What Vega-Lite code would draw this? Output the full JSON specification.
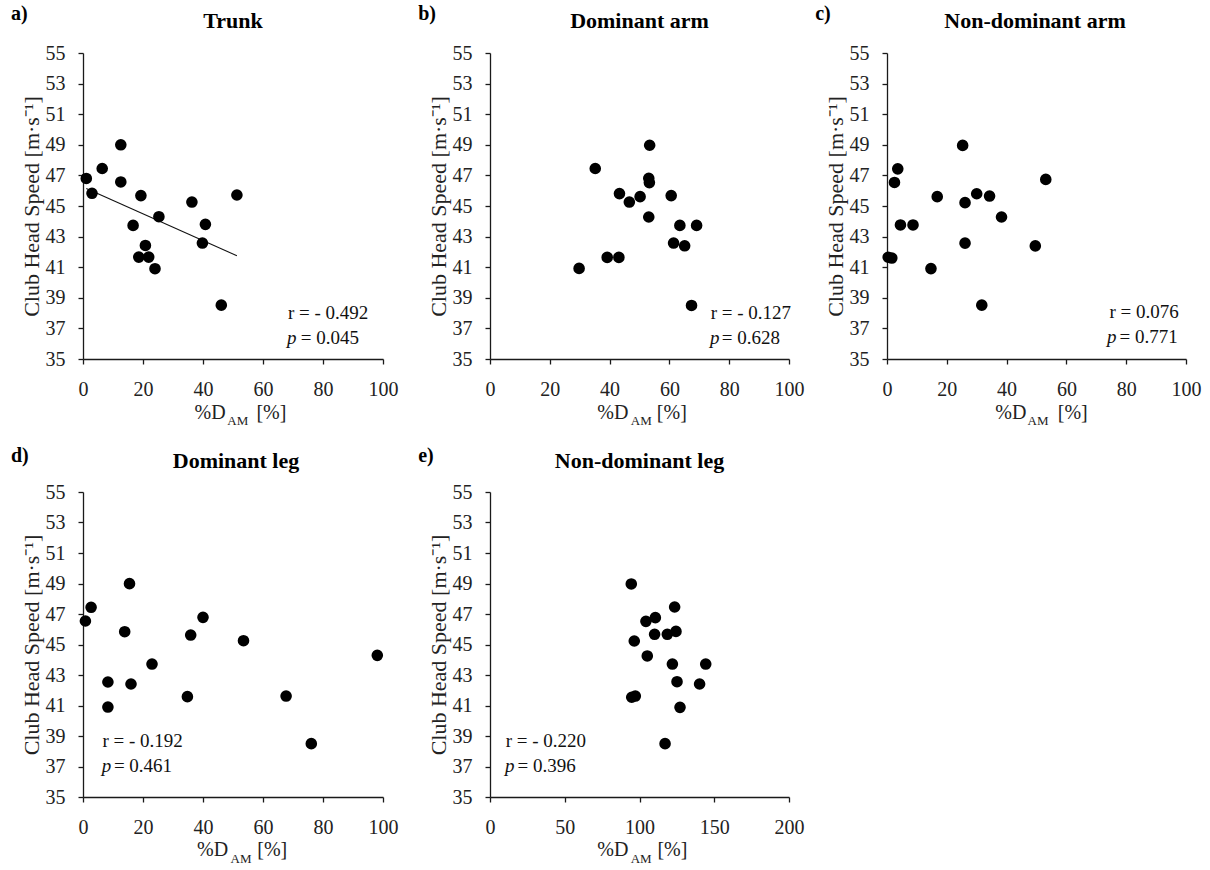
{
  "$schema": "https://vega.github.io/schema/vega-lite/v6.json",
  "background": "white",
  "padding": {"left": 11, "top": 4, "right": 5, "bottom": 5},
  "datasets": {
    "pts": [
      {"panel": "a", "pct": 1.1, "chs": 46.8}, {"panel": "a", "pct": 3.0, "chs": 45.83}, {"panel": "a", "pct": 6.4, "chs": 47.45}, {"panel": "a", "pct": 12.6, "chs": 49.0}, {"panel": "a", "pct": 12.6, "chs": 46.57}, {"panel": "a", "pct": 19.3, "chs": 45.68}, {"panel": "a", "pct": 16.7, "chs": 43.73}, {"panel": "a", "pct": 25.3, "chs": 44.3}, {"panel": "a", "pct": 20.8, "chs": 42.42}, {"panel": "a", "pct": 18.6, "chs": 41.66}, {"panel": "a", "pct": 21.9, "chs": 41.66}, {"panel": "a", "pct": 24.0, "chs": 40.9}, {"panel": "a", "pct": 36.3, "chs": 45.26}, {"panel": "a", "pct": 40.8, "chs": 43.8}, {"panel": "a", "pct": 39.8, "chs": 42.58}, {"panel": "a", "pct": 46.1, "chs": 38.52}, {"panel": "a", "pct": 51.3, "chs": 45.72},
      {"panel": "b", "pct": 29.8, "chs": 40.92}, {"panel": "b", "pct": 35.2, "chs": 47.45}, {"panel": "b", "pct": 39.2, "chs": 41.64}, {"panel": "b", "pct": 43.1, "chs": 41.64}, {"panel": "b", "pct": 43.3, "chs": 45.81}, {"panel": "b", "pct": 46.6, "chs": 45.26}, {"panel": "b", "pct": 50.2, "chs": 45.61}, {"panel": "b", "pct": 53.1, "chs": 46.81}, {"panel": "b", "pct": 53.3, "chs": 46.53}, {"panel": "b", "pct": 53.4, "chs": 48.97}, {"panel": "b", "pct": 53.1, "chs": 44.28}, {"panel": "b", "pct": 60.6, "chs": 45.68}, {"panel": "b", "pct": 61.4, "chs": 42.58}, {"panel": "b", "pct": 63.5, "chs": 43.73}, {"panel": "b", "pct": 65.1, "chs": 42.4}, {"panel": "b", "pct": 69.1, "chs": 43.73}, {"panel": "b", "pct": 67.4, "chs": 38.5},
      {"panel": "c", "pct": 0.4, "chs": 41.65}, {"panel": "c", "pct": 1.6, "chs": 41.6}, {"panel": "c", "pct": 2.5, "chs": 46.54}, {"panel": "c", "pct": 3.6, "chs": 47.43}, {"panel": "c", "pct": 4.5, "chs": 43.76}, {"panel": "c", "pct": 8.7, "chs": 43.76}, {"panel": "c", "pct": 14.7, "chs": 40.91}, {"panel": "c", "pct": 16.8, "chs": 45.61}, {"panel": "c", "pct": 25.3, "chs": 48.96}, {"panel": "c", "pct": 26.1, "chs": 45.22}, {"panel": "c", "pct": 26.1, "chs": 42.57}, {"panel": "c", "pct": 30.0, "chs": 45.8}, {"panel": "c", "pct": 34.3, "chs": 45.65}, {"panel": "c", "pct": 31.7, "chs": 38.52}, {"panel": "c", "pct": 38.3, "chs": 44.28}, {"panel": "c", "pct": 49.6, "chs": 42.39}, {"panel": "c", "pct": 53.1, "chs": 46.74},
      {"panel": "d", "pct": 0.8, "chs": 46.54}, {"panel": "d", "pct": 2.7, "chs": 47.44}, {"panel": "d", "pct": 8.3, "chs": 42.54}, {"panel": "d", "pct": 8.3, "chs": 40.9}, {"panel": "d", "pct": 13.9, "chs": 45.84}, {"panel": "d", "pct": 15.5, "chs": 48.99}, {"panel": "d", "pct": 16.0, "chs": 42.41}, {"panel": "d", "pct": 23.0, "chs": 43.72}, {"panel": "d", "pct": 34.8, "chs": 41.58}, {"panel": "d", "pct": 35.9, "chs": 45.62}, {"panel": "d", "pct": 40.0, "chs": 46.78}, {"panel": "d", "pct": 53.5, "chs": 45.25}, {"panel": "d", "pct": 67.7, "chs": 41.62}, {"panel": "d", "pct": 76.1, "chs": 38.5}, {"panel": "d", "pct": 98.1, "chs": 44.29},
      {"panel": "e", "pct": 94.5, "chs": 48.97}, {"panel": "e", "pct": 94.8, "chs": 41.54}, {"panel": "e", "pct": 97.2, "chs": 41.62}, {"panel": "e", "pct": 96.5, "chs": 45.23}, {"panel": "e", "pct": 104.3, "chs": 46.52}, {"panel": "e", "pct": 110.6, "chs": 46.76}, {"panel": "e", "pct": 110.1, "chs": 45.67}, {"panel": "e", "pct": 105.2, "chs": 44.25}, {"panel": "e", "pct": 118.6, "chs": 45.67}, {"panel": "e", "pct": 123.5, "chs": 47.46}, {"panel": "e", "pct": 124.4, "chs": 45.86}, {"panel": "e", "pct": 122.0, "chs": 43.72}, {"panel": "e", "pct": 125.1, "chs": 42.56}, {"panel": "e", "pct": 127.1, "chs": 40.88}, {"panel": "e", "pct": 117.1, "chs": 38.5}, {"panel": "e", "pct": 140.2, "chs": 42.41}, {"panel": "e", "pct": 144.3, "chs": 43.72}
    ],
    "trend": [
      {"panel": "a", "pct": 1.1, "chs": 46.15}, {"panel": "a", "pct": 51.3, "chs": 41.75}
    ],
    "ann": [
      {"panel": "a", "pct": 68.3, "chs": 37.64, "text": "r = - 0.492"}, {"panel": "a", "pct": 72.6, "chs": 36.0, "text": "= 0.045"},
      {"panel": "b", "pct": 73.8, "chs": 37.64, "text": "r = - 0.127"}, {"panel": "b", "pct": 77.5, "chs": 36.0, "text": "= 0.628"},
      {"panel": "c", "pct": 74.4, "chs": 37.67, "text": "r = 0.076"}, {"panel": "c", "pct": 77.8, "chs": 36.04, "text": "= 0.771"},
      {"panel": "d", "pct": 6.5, "chs": 38.28, "text": "r = - 0.192"}, {"panel": "d", "pct": 10.3, "chs": 36.64, "text": "= 0.461"},
      {"panel": "e", "pct": 10.5, "chs": 38.28, "text": "r = - 0.220"}, {"panel": "e", "pct": 18.4, "chs": 36.64, "text": "= 0.396"}
    ],
    "pit": [
      {"panel": "a", "pct": 68.0, "chs": 36.0, "text": "p"},
      {"panel": "b", "pct": 73.6, "chs": 36.0, "text": "p"},
      {"panel": "c", "pct": 73.6, "chs": 36.04, "text": "p"},
      {"panel": "d", "pct": 6.25, "chs": 36.64, "text": "p"},
      {"panel": "e", "pct": 10.0, "chs": 36.64, "text": "p"}
    ],
    "lab": [
      {"panel": "a", "pct": -24, "chs": 57.13, "text": "a)"},
      {"panel": "b", "pct": -24, "chs": 57.13, "text": "b)"},
      {"panel": "c", "pct": -24, "chs": 57.13, "text": "c)"},
      {"panel": "d", "pct": -24, "chs": 56.97, "text": "d)"},
      {"panel": "e", "pct": -48, "chs": 56.97, "text": "e)"}
    ],
    "ttl": [
      {"panel": "a", "pct": 50, "chs": 56.66, "text": "Trunk"},
      {"panel": "b", "pct": 50, "chs": 56.66, "text": "Dominant arm"},
      {"panel": "c", "pct": 49.5, "chs": 56.66, "text": "Non-dominant arm"},
      {"panel": "d", "pct": 51, "chs": 56.57, "text": "Dominant leg"},
      {"panel": "e", "pct": 100, "chs": 56.57, "text": "Non-dominant leg"}
    ],
    "xt": [
      {"panel": "a", "pct": 37.2, "chs": 31.1, "text": "%D"}, {"panel": "a", "pct": 57.8, "chs": 31.1, "text": "[%]"},
      {"panel": "b", "pct": 35.9, "chs": 31.1, "text": "%D"}, {"panel": "b", "pct": 55.8, "chs": 31.1, "text": "[%]"},
      {"panel": "c", "pct": 36.2, "chs": 31.1, "text": "%D"}, {"panel": "c", "pct": 57.1, "chs": 31.1, "text": "[%]"},
      {"panel": "d", "pct": 38.0, "chs": 31.1, "text": "%D"}, {"panel": "d", "pct": 58.1, "chs": 31.1, "text": "[%]"},
      {"panel": "e", "pct": 71.8, "chs": 31.1, "text": "%D"}, {"panel": "e", "pct": 112.0, "chs": 31.1, "text": "[%]"}
    ],
    "xs": [
      {"panel": "a", "pct": 48.1, "chs": 30.66, "text": "AM"},
      {"panel": "b", "pct": 47.1, "chs": 30.66, "text": "AM"},
      {"panel": "c", "pct": 47.0, "chs": 30.66, "text": "AM"},
      {"panel": "d", "pct": 49.2, "chs": 30.66, "text": "AM"},
      {"panel": "e", "pct": 94.1, "chs": 30.66, "text": "AM"}
    ]
  },
  "config": {
    "font": "Liberation Serif",
    "view": {"stroke": null},
    "axis": {
      "grid": false, "domainColor": "#1a1a1a", "domainWidth": 1.3, "tickColor": "#1a1a1a", "tickWidth": 1.3, "tickSize": 5,
      "labelFont": "Liberation Serif", "labelFontSize": 20, "labelColor": "#222",
      "titleFont": "Liberation Serif", "titleFontSize": 22, "titleFontWeight": "normal", "titleColor": "#222"
    },
    "axisX": {"labelPadding": 15, "labelFlush": false},
    "axisY": {"labelPadding": 13, "titlePadding": 2},
    "text": {"font": "Liberation Serif"}
  },
  "vconcat": [
    {
      "spacing": 20,
      "hconcat": [
        {
          "width": 300, "height": 306,
          "encoding": {
            "x": {"field": "pct", "type": "quantitative", "scale": {"domain": [0, 100], "nice": false}, "axis": {"values": [0, 20, 40, 60, 80, 100], "title": null}},
            "y": {"field": "chs", "type": "quantitative", "scale": {"domain": [35, 55], "nice": false, "zero": false}, "axis": {"values": [35, 37, 39, 41, 43, 45, 47, 49, 51, 53, 55], "title": "Club Head Speed [m·s⁻¹]"}}
          },
          "layer": [
            {"data": {"name": "trend"}, "transform": [{"filter": "datum.panel === 'a'"}], "mark": {"type": "line", "color": "#111", "strokeWidth": 1.1}},
            {"data": {"name": "pts"}, "transform": [{"filter": "datum.panel === 'a'"}], "mark": {"type": "circle", "size": 135, "color": "#000", "opacity": 1}},
            {"data": {"name": "ann"}, "transform": [{"filter": "datum.panel === 'a'"}], "mark": {"type": "text", "align": "left", "baseline": "alphabetic", "fontSize": 19, "color": "#111"}, "encoding": {"text": {"field": "text"}}},
            {"data": {"name": "pit"}, "transform": [{"filter": "datum.panel === 'a'"}], "mark": {"type": "text", "align": "left", "baseline": "alphabetic", "fontSize": 19, "fontStyle": "italic", "color": "#111"}, "encoding": {"text": {"field": "text"}}},
            {"data": {"name": "lab"}, "transform": [{"filter": "datum.panel === 'a'"}], "mark": {"type": "text", "align": "left", "baseline": "alphabetic", "fontSize": 20, "fontWeight": "bold", "color": "#000"}, "encoding": {"text": {"field": "text"}}},
            {"data": {"name": "ttl"}, "transform": [{"filter": "datum.panel === 'a'"}], "mark": {"type": "text", "align": "center", "baseline": "alphabetic", "fontSize": 22, "fontWeight": "bold", "color": "#000"}, "encoding": {"text": {"field": "text"}}},
            {"data": {"name": "xt"}, "transform": [{"filter": "datum.panel === 'a'"}], "mark": {"type": "text", "align": "left", "baseline": "alphabetic", "fontSize": 20, "color": "#222"}, "encoding": {"text": {"field": "text"}}},
            {"data": {"name": "xs"}, "transform": [{"filter": "datum.panel === 'a'"}], "mark": {"type": "text", "align": "left", "baseline": "alphabetic", "fontSize": 13, "color": "#222"}, "encoding": {"text": {"field": "text"}}}
          ]
        },
        {
          "spacing": 11,
          "hconcat": [
            {
              "width": 299, "height": 306,
              "encoding": {
                "x": {"field": "pct", "type": "quantitative", "scale": {"domain": [0, 100], "nice": false}, "axis": {"values": [0, 20, 40, 60, 80, 100], "title": null}},
                "y": {"field": "chs", "type": "quantitative", "scale": {"domain": [35, 55], "nice": false, "zero": false}, "axis": {"values": [35, 37, 39, 41, 43, 45, 47, 49, 51, 53, 55], "title": "Club Head Speed [m·s⁻¹]"}}
              },
              "layer": [
                {"data": {"name": "pts"}, "transform": [{"filter": "datum.panel === 'b'"}], "mark": {"type": "circle", "size": 135, "color": "#000", "opacity": 1}},
                {"data": {"name": "ann"}, "transform": [{"filter": "datum.panel === 'b'"}], "mark": {"type": "text", "align": "left", "baseline": "alphabetic", "fontSize": 19, "color": "#111"}, "encoding": {"text": {"field": "text"}}},
                {"data": {"name": "pit"}, "transform": [{"filter": "datum.panel === 'b'"}], "mark": {"type": "text", "align": "left", "baseline": "alphabetic", "fontSize": 19, "fontStyle": "italic", "color": "#111"}, "encoding": {"text": {"field": "text"}}},
                {"data": {"name": "lab"}, "transform": [{"filter": "datum.panel === 'b'"}], "mark": {"type": "text", "align": "left", "baseline": "alphabetic", "fontSize": 20, "fontWeight": "bold", "color": "#000"}, "encoding": {"text": {"field": "text"}}},
                {"data": {"name": "ttl"}, "transform": [{"filter": "datum.panel === 'b'"}], "mark": {"type": "text", "align": "center", "baseline": "alphabetic", "fontSize": 22, "fontWeight": "bold", "color": "#000"}, "encoding": {"text": {"field": "text"}}},
                {"data": {"name": "xt"}, "transform": [{"filter": "datum.panel === 'b'"}], "mark": {"type": "text", "align": "left", "baseline": "alphabetic", "fontSize": 20, "color": "#222"}, "encoding": {"text": {"field": "text"}}},
                {"data": {"name": "xs"}, "transform": [{"filter": "datum.panel === 'b'"}], "mark": {"type": "text", "align": "left", "baseline": "alphabetic", "fontSize": 13, "color": "#222"}, "encoding": {"text": {"field": "text"}}}
              ]
            },
            {
              "width": 299, "height": 306,
              "encoding": {
                "x": {"field": "pct", "type": "quantitative", "scale": {"domain": [0, 100], "nice": false}, "axis": {"values": [0, 20, 40, 60, 80, 100], "title": null}},
                "y": {"field": "chs", "type": "quantitative", "scale": {"domain": [35, 55], "nice": false, "zero": false}, "axis": {"values": [35, 37, 39, 41, 43, 45, 47, 49, 51, 53, 55], "title": "Club Head Speed [m·s⁻¹]"}}
              },
              "layer": [
                {"data": {"name": "pts"}, "transform": [{"filter": "datum.panel === 'c'"}], "mark": {"type": "circle", "size": 135, "color": "#000", "opacity": 1}},
                {"data": {"name": "ann"}, "transform": [{"filter": "datum.panel === 'c'"}], "mark": {"type": "text", "align": "left", "baseline": "alphabetic", "fontSize": 19, "color": "#111"}, "encoding": {"text": {"field": "text"}}},
                {"data": {"name": "pit"}, "transform": [{"filter": "datum.panel === 'c'"}], "mark": {"type": "text", "align": "left", "baseline": "alphabetic", "fontSize": 19, "fontStyle": "italic", "color": "#111"}, "encoding": {"text": {"field": "text"}}},
                {"data": {"name": "lab"}, "transform": [{"filter": "datum.panel === 'c'"}], "mark": {"type": "text", "align": "left", "baseline": "alphabetic", "fontSize": 20, "fontWeight": "bold", "color": "#000"}, "encoding": {"text": {"field": "text"}}},
                {"data": {"name": "ttl"}, "transform": [{"filter": "datum.panel === 'c'"}], "mark": {"type": "text", "align": "center", "baseline": "alphabetic", "fontSize": 22, "fontWeight": "bold", "color": "#000"}, "encoding": {"text": {"field": "text"}}},
                {"data": {"name": "xt"}, "transform": [{"filter": "datum.panel === 'c'"}], "mark": {"type": "text", "align": "left", "baseline": "alphabetic", "fontSize": 20, "color": "#222"}, "encoding": {"text": {"field": "text"}}},
                {"data": {"name": "xs"}, "transform": [{"filter": "datum.panel === 'c'"}], "mark": {"type": "text", "align": "left", "baseline": "alphabetic", "fontSize": 13, "color": "#222"}, "encoding": {"text": {"field": "text"}}}
              ]
            }
          ]
        }
      ]
    },
    {
      "spacing": 20,
      "hconcat": [
        {
          "width": 300, "height": 305,
          "encoding": {
            "x": {"field": "pct", "type": "quantitative", "scale": {"domain": [0, 100], "nice": false}, "axis": {"values": [0, 20, 40, 60, 80, 100], "title": null}},
            "y": {"field": "chs", "type": "quantitative", "scale": {"domain": [35, 55], "nice": false, "zero": false}, "axis": {"values": [35, 37, 39, 41, 43, 45, 47, 49, 51, 53, 55], "title": "Club Head Speed [m·s⁻¹]"}}
          },
          "layer": [
            {"data": {"name": "pts"}, "transform": [{"filter": "datum.panel === 'd'"}], "mark": {"type": "circle", "size": 135, "color": "#000", "opacity": 1}},
            {"data": {"name": "ann"}, "transform": [{"filter": "datum.panel === 'd'"}], "mark": {"type": "text", "align": "left", "baseline": "alphabetic", "fontSize": 19, "color": "#111"}, "encoding": {"text": {"field": "text"}}},
            {"data": {"name": "pit"}, "transform": [{"filter": "datum.panel === 'd'"}], "mark": {"type": "text", "align": "left", "baseline": "alphabetic", "fontSize": 19, "fontStyle": "italic", "color": "#111"}, "encoding": {"text": {"field": "text"}}},
            {"data": {"name": "lab"}, "transform": [{"filter": "datum.panel === 'd'"}], "mark": {"type": "text", "align": "left", "baseline": "alphabetic", "fontSize": 20, "fontWeight": "bold", "color": "#000"}, "encoding": {"text": {"field": "text"}}},
            {"data": {"name": "ttl"}, "transform": [{"filter": "datum.panel === 'd'"}], "mark": {"type": "text", "align": "center", "baseline": "alphabetic", "fontSize": 22, "fontWeight": "bold", "color": "#000"}, "encoding": {"text": {"field": "text"}}},
            {"data": {"name": "xt"}, "transform": [{"filter": "datum.panel === 'd'"}], "mark": {"type": "text", "align": "left", "baseline": "alphabetic", "fontSize": 20, "color": "#222"}, "encoding": {"text": {"field": "text"}}},
            {"data": {"name": "xs"}, "transform": [{"filter": "datum.panel === 'd'"}], "mark": {"type": "text", "align": "left", "baseline": "alphabetic", "fontSize": 13, "color": "#222"}, "encoding": {"text": {"field": "text"}}}
          ]
        },
        {
          "width": 299, "height": 305,
          "encoding": {
            "x": {"field": "pct", "type": "quantitative", "scale": {"domain": [0, 200], "nice": false}, "axis": {"values": [0, 50, 100, 150, 200], "title": null}},
            "y": {"field": "chs", "type": "quantitative", "scale": {"domain": [35, 55], "nice": false, "zero": false}, "axis": {"values": [35, 37, 39, 41, 43, 45, 47, 49, 51, 53, 55], "title": "Club Head Speed [m·s⁻¹]"}}
          },
          "layer": [
            {"data": {"name": "pts"}, "transform": [{"filter": "datum.panel === 'e'"}], "mark": {"type": "circle", "size": 135, "color": "#000", "opacity": 1}},
            {"data": {"name": "ann"}, "transform": [{"filter": "datum.panel === 'e'"}], "mark": {"type": "text", "align": "left", "baseline": "alphabetic", "fontSize": 19, "color": "#111"}, "encoding": {"text": {"field": "text"}}},
            {"data": {"name": "pit"}, "transform": [{"filter": "datum.panel === 'e'"}], "mark": {"type": "text", "align": "left", "baseline": "alphabetic", "fontSize": 19, "fontStyle": "italic", "color": "#111"}, "encoding": {"text": {"field": "text"}}},
            {"data": {"name": "lab"}, "transform": [{"filter": "datum.panel === 'e'"}], "mark": {"type": "text", "align": "left", "baseline": "alphabetic", "fontSize": 20, "fontWeight": "bold", "color": "#000"}, "encoding": {"text": {"field": "text"}}},
            {"data": {"name": "ttl"}, "transform": [{"filter": "datum.panel === 'e'"}], "mark": {"type": "text", "align": "center", "baseline": "alphabetic", "fontSize": 22, "fontWeight": "bold", "color": "#000"}, "encoding": {"text": {"field": "text"}}},
            {"data": {"name": "xt"}, "transform": [{"filter": "datum.panel === 'e'"}], "mark": {"type": "text", "align": "left", "baseline": "alphabetic", "fontSize": 20, "color": "#222"}, "encoding": {"text": {"field": "text"}}},
            {"data": {"name": "xs"}, "transform": [{"filter": "datum.panel === 'e'"}], "mark": {"type": "text", "align": "left", "baseline": "alphabetic", "fontSize": 13, "color": "#222"}, "encoding": {"text": {"field": "text"}}}
          ]
        }
      ]
    }
  ],
  "spacing": 16
}
